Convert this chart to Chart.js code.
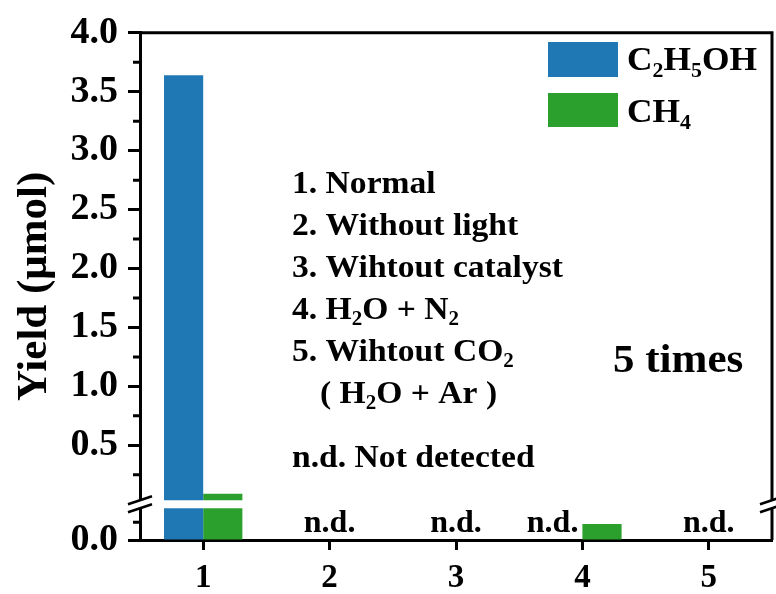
<!DOCTYPE html>
<html>
<head>
<meta charset="utf-8">
<script src="https://cdn.jsdelivr.net/npm/chart.js@4/dist/chart.umd.min.js"></script>
<style>
  html, body { margin: 0; padding: 0; background: #fff; }
</style>
</head>
<body>
<canvas id="yieldChart" width="776" height="594"></canvas>
<script>
const categories = ['1', '2', '3', '4', '5'];
const ethanolYield = [3.64, 0, 0, 0, 0];
const methaneYield = [0.09, 0, 0, 0.0045, 0];

// the y axis is broken: a short bottom segment and a tall top one
const lowerRange = [0, 0.01];
const upperRange = [0, 4.0];
const lowerTicks = [0.0];
const lowerMinorTicks = [0.005];
const upperTicks = [0.5, 1.0, 1.5, 2.0, 2.5, 3.0, 3.5, 4.0];
const upperMinorTicks = [0.25, 0.75, 1.25, 1.75, 2.25, 2.75, 3.25, 3.75];

const conditionLines = [
    '1. Normal',
    '2. Without light',
    '3. Wihtout catalyst',
    '4. H_2O + N_2',
    '5. Wihtout CO_2',
    '( H_2O + Ar )',
    'n.d. Not detected'
];

const SERIF = '"Liberation Serif", "Times New Roman", serif';
const BLUE = '#1f77b4';
const GREEN = '#2ca02c';

// split one series into the part shown below the break and the part above it
function lowerPart(values) {
    return values.map(v => v > 0 ? [lowerRange[0], Math.min(v, lowerRange[1])] : null);
}

function upperPart(values) {
    return values.map(v => v > lowerRange[1] ? [upperRange[0], v] : null);
}

// draws text where "_x" puts the single character x as a subscript,
// stretch widens the glyphs a little
function drawRich(ctx, text, x, y, size, stretch) {
    const runs = [];
    for (let i = 0; i < text.length; i++) {
        if (text[i] === '_' && i + 1 < text.length) {
            runs.push({t: text[i + 1], sub: true});
            i++;
        } else if (runs.length && !runs[runs.length - 1].sub) {
            runs[runs.length - 1].t += text[i];
        } else {
            runs.push({t: text[i], sub: false});
        }
    }
    ctx.save();
    ctx.translate(x, y);
    ctx.scale(stretch || 1, 1);
    let cx = 0;
    runs.forEach(r => {
        const s = r.sub ? Math.round(size * 0.62) : size;
        ctx.font = 'bold ' + s + 'px ' + SERIF;
        ctx.fillText(r.t, cx, r.sub ? size * 0.2 : 0);
        cx += ctx.measureText(r.t).width;
    });
    ctx.restore();
}

function tickFont(size) {
    return {family: SERIF, size: size, weight: 'bold'};
}

const brokenAxisDecor = {
    id: 'brokenAxisDecor',
    afterDatasetsDraw(chart) {
        const {ctx, chartArea: area, scales} = chart;
        const low = scales.yLow, high = scales.yHigh;
        const breakY = low.top;
        ctx.save();
        ctx.strokeStyle = '#000';
        ctx.lineWidth = 3;

        // minor ticks
        ctx.beginPath();
        upperMinorTicks.forEach(v => {
            const y = high.getPixelForValue(v);
            ctx.moveTo(high.right - 7, y);
            ctx.lineTo(high.right, y);
        });
        lowerMinorTicks.forEach(v => {
            const y = low.getPixelForValue(v);
            ctx.moveTo(low.right - 7, y);
            ctx.lineTo(low.right, y);
        });
        // top and right frame
        ctx.moveTo(area.left, area.top);
        ctx.lineTo(area.right, area.top);
        ctx.lineTo(area.right, area.bottom);
        ctx.stroke();

        // gap across the break
        ctx.fillStyle = '#fff';
        ctx.fillRect(area.left - 3, breakY - 4, area.right - area.left + 6, 8);

        // break marks on both axes
        ctx.lineWidth = 2.5;
        ctx.beginPath();
        [area.left, area.right].forEach(x => {
            [-4, 4].forEach(dy => {
                ctx.moveTo(x - 12, breakY + dy + 4);
                ctx.lineTo(x + 12, breakY + dy - 4);
            });
        });
        ctx.stroke();
        ctx.restore();
    },
    afterDraw(chart) {
        const {ctx, scales} = chart;
        const x = scales.x;
        ctx.save();
        ctx.fillStyle = '#000';
        ctx.textBaseline = 'alphabetic';

        // n.d. marks for conditions with nothing detected
        ctx.font = 'bold 32px ' + SERIF;
        categories.forEach((c, i) => {
            const eth = ethanolYield[i], ch = methaneYield[i];
            if (eth === 0 && ch === 0) {
                ctx.textAlign = 'center';
                ctx.fillText('n.d.', x.getPixelForValue(i), 532);
            } else if (eth === 0) {
                const bar = chart.getDatasetMeta(0).data[i];
                ctx.textAlign = 'right';
                ctx.fillText('n.d.', bar.x + bar.width / 2 - 4, 532);
            } else if (ch === 0) {
                const bar = chart.getDatasetMeta(2).data[i];
                ctx.textAlign = 'left';
                ctx.fillText('n.d.', bar.x - bar.width / 2 + 4, 532);
            }
        });

        // y axis title
        ctx.save();
        ctx.translate(46, (chart.chartArea.top + chart.chartArea.bottom) / 2);
        ctx.rotate(-Math.PI / 2);
        ctx.textAlign = 'center';
        ctx.font = 'bold 43px ' + SERIF;
        ctx.fillText('Yield (\u03bcmol)', 0, 0);
        ctx.restore();

        // list of conditions
        ctx.textAlign = 'left';
        conditionLines.forEach((line, i) => {
            const y = i < 6 ? 193 + i * 42 : 467;
            const indent = line.startsWith('(') ? 28 : 0;
            drawRich(ctx, line, 292 + indent, y, 32, 1.05);
        });

        drawRich(ctx, '5 times', 613, 372, 41, 1.05);

        // legend
        ctx.fillStyle = BLUE;
        ctx.fillRect(548, 42, 70, 35);
        ctx.fillStyle = GREEN;
        ctx.fillRect(548, 93, 70, 34);
        ctx.fillStyle = '#000';
        drawRich(ctx, 'C_2H_5OH', 627, 70, 34, 1.04);
        drawRich(ctx, 'CH_4', 627, 122, 34, 1.04);
        ctx.restore();
    }
};

new Chart(document.getElementById('yieldChart'), {
    type: 'bar',
    data: {
        labels: categories,
        datasets: [
            {label: 'C2H5OH', data: lowerPart(ethanolYield), yAxisID: 'yLow', stack: 'eth', backgroundColor: BLUE},
            {label: 'C2H5OH', data: upperPart(ethanolYield), yAxisID: 'yHigh', stack: 'eth', backgroundColor: BLUE},
            {label: 'CH4', data: lowerPart(methaneYield), yAxisID: 'yLow', stack: 'ch4', backgroundColor: GREEN},
            {label: 'CH4', data: upperPart(methaneYield), yAxisID: 'yHigh', stack: 'ch4', backgroundColor: GREEN}
        ]
    },
    options: {
        responsive: false,
        animation: false,
        datasets: {
            bar: {categoryPercentage: 0.62, barPercentage: 1, borderWidth: 0}
        },
        layout: {padding: {top: 29, right: 4, left: 0, bottom: 0}},
        plugins: {
            legend: {display: false},
            tooltip: {enabled: false}
        },
        scales: {
            x: {
                type: 'category',
                offset: true,
                afterFit: s => { s.height = 54; },
                grid: {offset: false, drawOnChartArea: false, tickLength: 10, tickWidth: 3, tickColor: '#000'},
                border: {color: '#000', width: 3},
                ticks: {font: tickFont(33), color: '#000', padding: 9}
            },
            // left-side stacked axes are laid out in reverse order, so the lower segment comes first
            yLow: {
                type: 'linear',
                position: 'left',
                stack: 'yBroken',
                stackWeight: 36,
                min: lowerRange[0],
                max: lowerRange[1],
                afterFit: s => { s.width = 140; },
                afterBuildTicks: s => { s.ticks = lowerTicks.map(v => ({value: v})); },
                grid: {drawOnChartArea: false, tickLength: 12, tickWidth: 3, tickColor: '#000'},
                border: {color: '#000', width: 3},
                ticks: {font: tickFont(38), color: '#000', padding: 10, autoSkip: false, callback: v => Number(v).toFixed(1)}
            },
            yHigh: {
                type: 'linear',
                position: 'left',
                stack: 'yBroken',
                stackWeight: 475,
                min: upperRange[0],
                max: upperRange[1],
                afterFit: s => { s.width = 140; },
                afterBuildTicks: s => { s.ticks = upperTicks.map(v => ({value: v})); },
                grid: {drawOnChartArea: false, tickLength: 12, tickWidth: 3, tickColor: '#000'},
                border: {color: '#000', width: 3},
                ticks: {font: tickFont(38), color: '#000', padding: 10, autoSkip: false, callback: v => Number(v).toFixed(1)}
            }
        }
    },
    plugins: [brokenAxisDecor]
});
</script>
</body>
</html>
